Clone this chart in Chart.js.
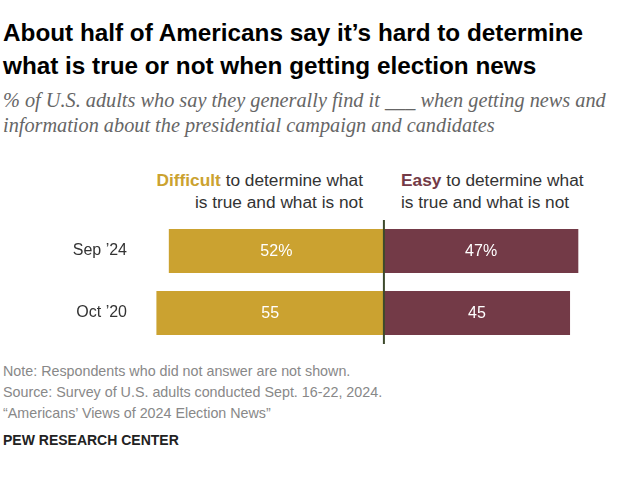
<!DOCTYPE html><html><head><meta charset="utf-8">
<script src="https://cdn.jsdelivr.net/npm/chart.js@4"></script>
<style>
body{margin:0;width:639px;height:478px;position:relative;background:#fff;font-family:"Liberation Sans",Arial,sans-serif;overflow:hidden}
.t{position:absolute;white-space:nowrap}
#c{position:absolute;left:0;top:0}
</style></head><body>
<div class="t" style="left:3px;top:16px;font-size:24.3px;font-weight:bold;line-height:33px;color:#000">About half of Americans say it’s hard to determine<br>what is true or not when getting election news</div>
<div class="t" style="left:3px;top:88px;font-family:'Liberation Serif',serif;font-style:italic;font-size:20.3px;line-height:25px;color:#666">% of U.S. adults who say they generally find it ___ when getting news and<br>information about the presidential campaign and candidates</div>
<div class="t" style="right:276px;top:169px;font-size:17.3px;line-height:22px;color:#333;text-align:right"><b style="color:#CBA230">Difficult</b> to determine what<br>is true and what is not</div>
<div class="t" style="left:401px;top:169px;font-size:17.3px;line-height:22px;color:#333"><b style="color:#733A47">Easy</b> to determine what<br>is true and what is not</div>
<div class="t" style="left:3px;top:361px;font-size:14.3px;line-height:21px;color:#888">Note: Respondents who did not answer are not shown.<br>Source: Survey of U.S. adults conducted Sept. 16-22, 2024.<br>“Americans’ Views of 2024 Election News”</div>
<div class="t" style="left:3px;top:432px;font-size:14px;font-weight:bold;color:#222">PEW RESEARCH CENTER</div>
<canvas id="c" width="639" height="478"></canvas>
<script>
const categories=["Sep ’24","Oct ’20"];
const difficult=[52,55];
const easy=[47,45];
const difficultLabels=["52%","55"];
const easyLabels=["47%","45"];
const labelPlug={id:'lp',afterDatasetsDraw(ch){const c=ch.ctx;c.save();c.fillStyle='#fff';c.font='16px "Liberation Sans",Arial';c.textAlign='center';c.textBaseline='middle';
[difficultLabels,easyLabels].forEach((L,d)=>ch.getDatasetMeta(d).data.forEach((b,i)=>{c.fillText(L[i],(b.x+b.base)/2,b.y+1)}));
const x=ch.scales.x.getPixelForValue(0);c.strokeStyle='#3D4A2C';c.lineWidth=2;c.beginPath();c.moveTo(x,ch.chartArea.top);c.lineTo(x,ch.chartArea.bottom);c.stroke();c.restore();}};
new Chart(document.getElementById('c'),{type:'bar',data:{labels:categories,datasets:[
{data:difficult.map(v=>-v),backgroundColor:'#CBA230'},{data:easy,backgroundColor:'#733A47'}]},
options:{indexAxis:'y',responsive:false,animation:false,events:[],layout:{padding:{top:220,bottom:134,right:40,left:0}},
plugins:{legend:{display:false},tooltip:{enabled:false}},
scales:{x:{stacked:true,min:-58,max:52,display:false},
y:{stacked:true,grid:{display:false},border:{display:false},afterFit(s){s.width=144},ticks:{padding:9,color:'#333',font:{size:16,family:'"Liberation Sans",Arial'}}}},
datasets:{bar:{barPercentage:0.71,categoryPercentage:1}}},plugins:[labelPlug]});
</script></body></html>
